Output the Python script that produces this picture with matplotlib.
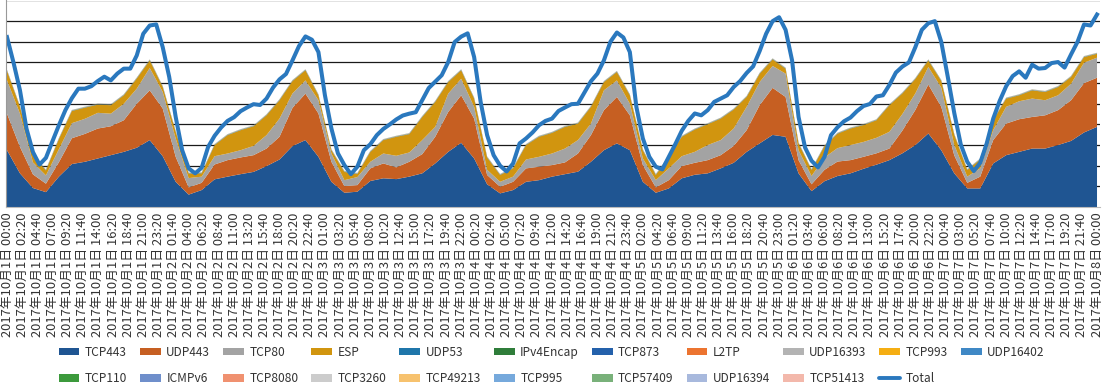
import numpy as np
import matplotlib
matplotlib.use('Agg')
import matplotlib.pyplot as plt
from matplotlib.lines import Line2D

plt.rcParams['font.family'] = ['Noto Sans CJK JP', 'DejaVu Sans']

# Total traffic, one value per hour (drawn on its own unlabeled scale)
total = [
    8.23, 7.0, 5.65, 3.8, 2.66, 2.05, 2.38, 3.18, 3.96, 4.69, 5.27, 5.73,
    5.73, 5.85, 6.1, 6.31, 6.13, 6.46, 6.7, 6.7, 7.34, 8.39, 8.79, 8.84,
    7.74, 6.3, 4.36, 2.75, 1.87, 1.63, 1.9, 2.91, 3.45, 3.85, 4.17, 4.35,
    4.64, 4.82, 4.98, 4.94, 5.25, 5.78, 6.18, 6.44, 7.1, 7.79, 8.26, 8.1,
    7.5, 5.41, 3.8, 2.6, 2.03, 1.59, 1.95, 2.75, 3.04, 3.48, 3.78, 4.0,
    4.24, 4.43, 4.52, 4.59, 5.17, 5.76, 6.07, 6.38, 7.02, 7.99, 8.25, 8.41,
    7.26, 5.09, 3.48, 2.51, 2.0, 1.72, 2.11, 3.08, 3.32, 3.61, 3.96, 4.17,
    4.28, 4.65, 4.82, 4.98, 5.0, 5.54, 6.09, 6.46, 7.1, 8.0, 8.45, 8.21,
    7.5, 4.85, 3.32, 2.43, 1.95, 1.82, 2.43, 3.04, 3.69, 4.17, 4.53, 4.44,
    4.69, 5.09, 5.25, 5.41, 5.81, 6.1, 6.49, 6.81, 7.55, 8.39, 9.0, 9.19,
    8.58, 7.1, 4.36, 2.88, 2.24, 1.92, 2.43, 3.48, 3.86, 4.15, 4.33, 4.64,
    4.89, 4.99, 5.35, 5.41, 5.91, 6.51, 6.8, 7.0, 7.74, 8.58, 8.9, 9.0,
    7.99, 6.3, 4.55, 3.03, 2.19, 1.74, 2.14, 3.08, 4.28, 5.14, 5.85, 6.34,
    6.57, 6.26, 6.89, 6.7, 6.73, 6.97, 7.02, 6.75, 7.39, 8.0, 8.84, 8.79,
    9.32,
]

# upper edge of each of the four big layers, every 2 hours
tcp443_top = [
    2.75, 1.63, 0.92, 0.72, 1.47, 2.08, 2.19, 2.35, 2.51, 2.67, 2.87, 3.24,
    2.46, 1.22, 0.6, 0.82, 1.34, 1.47, 1.59, 1.7, 1.98, 2.3, 2.95, 3.24,
    2.43, 1.22, 0.69, 0.74, 1.26, 1.39, 1.35, 1.47, 1.63, 2.11, 2.67, 3.11,
    2.35, 1.1, 0.66, 0.82, 1.22, 1.3, 1.47, 1.59, 1.71, 2.19, 2.75, 3.08,
    2.75, 1.22, 0.69, 0.9, 1.39, 1.56, 1.63, 1.87, 2.14, 2.67, 3.08, 3.49,
    3.4, 1.63, 0.77, 1.25, 1.5, 1.63, 1.85, 2.05, 2.27, 2.6, 3.0, 3.56,
    2.75, 1.63, 0.9, 0.9, 2.11, 2.51, 2.67, 2.83, 2.83, 3.0, 3.2, 3.61, 3.88,
]
udp443_top = [
    4.52, 2.91, 1.58, 1.13, 2.17, 3.33, 3.54, 3.8, 3.91, 4.2, 5.0, 5.65,
    4.77, 2.43, 0.95, 1.17, 2.06, 2.27, 2.4, 2.51, 2.83, 3.4, 4.8, 5.49,
    4.53, 2.19, 1.01, 1.06, 1.87, 2.11, 1.92, 2.19, 2.56, 3.4, 4.6, 5.41,
    4.28, 1.55, 0.98, 1.22, 1.87, 1.95, 2.03, 2.16, 2.59, 3.48, 4.69, 5.33,
    4.44, 2.03, 0.95, 1.3, 1.98, 2.14, 2.27, 2.51, 2.96, 3.72, 4.93, 5.77,
    5.33, 2.27, 1.1, 1.8, 2.2, 2.27, 2.43, 2.6, 2.83, 3.7, 4.7, 5.93,
    4.85, 2.5, 1.17, 1.47, 3.24, 4.04, 4.25, 4.36, 4.44, 4.69, 5.17, 6.0, 6.26,
]
tcp80_top = [
    6.14, 4.52, 2.16, 1.53, 2.8, 4.06, 4.27, 4.56, 4.52, 5.0, 5.73, 6.73,
    5.57, 3.32, 1.4, 1.47, 2.46, 2.59, 2.75, 2.96, 3.48, 4.28, 5.5, 6.13,
    5.17, 2.59, 1.3, 1.45, 2.19, 2.59, 2.48, 2.64, 3.24, 3.88, 5.49, 6.21,
    4.85, 1.8, 1.22, 1.47, 2.3, 2.43, 2.59, 2.83, 3.24, 4.04, 5.65, 6.13,
    5.0, 2.35, 1.3, 1.87, 2.46, 2.67, 3.0, 3.24, 3.8, 4.85, 6.05, 6.83,
    6.46, 2.75, 1.5, 2.4, 2.85, 3.0, 3.15, 3.35, 3.64, 4.5, 5.5, 6.78,
    5.78, 3.0, 1.47, 1.87, 3.72, 4.85, 5.12, 5.25, 5.17, 5.41, 5.97, 6.99, 7.23,
]
esp_top = [
    6.59, 4.85, 2.48, 1.77, 3.29, 4.65, 4.81, 4.96, 4.93, 5.41, 6.22, 7.1,
    5.81, 3.64, 1.62, 1.63, 3.0, 3.48, 3.72, 3.91, 4.44, 5.17, 6.1, 6.62,
    5.41, 2.75, 1.7, 1.6, 2.67, 3.24, 3.4, 3.53, 4.36, 5.09, 6.05, 6.62,
    5.25, 2.4, 1.55, 1.87, 3.0, 3.4, 3.59, 3.88, 4.04, 4.85, 6.05, 6.54,
    5.41, 2.75, 1.55, 2.43, 3.4, 3.75, 4.01, 4.28, 4.72, 5.33, 6.45, 7.15,
    6.7, 3.08, 1.79, 2.95, 3.55, 3.8, 3.97, 4.2, 4.93, 5.5, 6.2, 7.1,
    6.1, 3.5, 1.79, 2.3, 4.2, 5.25, 5.41, 5.65, 5.57, 5.81, 6.3, 7.26, 7.42,
]

# the small protocols only make a hairline on top of the stack
minor_names = ['UDP53', 'IPv4Encap', 'TCP873', 'L2TP', 'UDP16393', 'TCP993',
               'UDP16402', 'TCP110', 'ICMPv6', 'TCP8080', 'TCP3260',
               'TCP49213', 'TCP995', 'TCP57409', 'UDP16394', 'TCP51413']
minor_level = [0.012, 0.006, 0.003, 0.003, 0.008, 0.004, 0.002, 0.002,
               0.002, 0.002, 0.002, 0.001, 0.001, 0.001, 0.001, 0.001]

names = ['TCP443', 'UDP443', 'TCP80', 'ESP'] + minor_names
colors = ['#1f5592', '#c65f22', '#a3a3a3', '#d1950f',
          '#1f76aa', '#2f7d3a', '#2461ab', '#ec7430', '#b3b3b3', '#f5ae13',
          '#3f88c5', '#3c9a3c', '#6f8fcb', '#f09170', '#cccccc', '#f7c26e',
          '#76a9dc', '#79b17a', '#a8b9dd', '#f3b8ab']

hours = np.arange(len(total))
hours2 = np.arange(0, 169, 2)

b = np.array(tcp443_top)
o = np.array(udp443_top)
g = np.array(tcp80_top)
e = np.array(esp_top)
layers = [b, o - b, g - o, e - g] + [np.full(len(hours2), v) for v in minor_level]

# x tick labels every 140 minutes
tick_min = np.arange(0, 7 * 1440 + 1, 140)
tick_labels = ['2017年10月%d日 %02d:%02d' % (1 + m // 1440, m % 1440 // 60, m % 60)
               for m in tick_min]

fig = plt.figure(figsize=(11.03, 3.89), dpi=100)
ax = fig.add_axes([6 / 1103, 1 - 207 / 389, 1094 / 1103, 206.5 / 389])

polys = ax.stackplot(hours2, layers, colors=colors, labels=names, linewidth=0)
line, = ax.plot(hours, total, color='#2a78be', lw=2.9, solid_joinstyle='round',
                label='Total')

ax.set_xlim(-0.154, 168.46)
ax.set_ylim(0, 10)
ax.set_yticks(range(1, 11))
ax.set_yticklabels([])
ax.tick_params(axis='y', length=0)
ax.set_axisbelow(True)
ax.grid(axis='y', color='#1a1a1a', lw=0.9)

ax.set_xticks(tick_min / 60)
ax.set_xticklabels(tick_labels, rotation=90, fontsize=9.3, color='#333333')
ax.tick_params(axis='x', length=0, pad=4)

for s in ['top', 'right']:
    ax.spines[s].set_visible(False)
ax.spines['left'].set_color('#999999')
ax.spines['left'].set_linewidth(0.8)
ax.spines['bottom'].set_color('#bbbbbb')
ax.spines['bottom'].set_linewidth(0.8)

# legend: 11 columns, first row then second row
handles = list(polys) + [Line2D([], [], color='#2a78be', lw=2.8, solid_capstyle='round')]
labels = names + ['Total']
row1 = list(range(0, 11))
row2 = list(range(11, 21))
order = []
for j in range(11):
    order.append(row1[j])
    if j < len(row2):
        order.append(row2[j])
fig.legend([handles[i] for i in order], [labels[i] for i in order],
           loc='center', bbox_to_anchor=(0.5, 0.06), ncol=11, frameon=False,
           fontsize=8.6, handlelength=1.75, handleheight=0.55,
           handletextpad=0.45, columnspacing=1.08, labelspacing=1.1,
           labelcolor='#333333')

fig.savefig('out.png', dpi=100)
